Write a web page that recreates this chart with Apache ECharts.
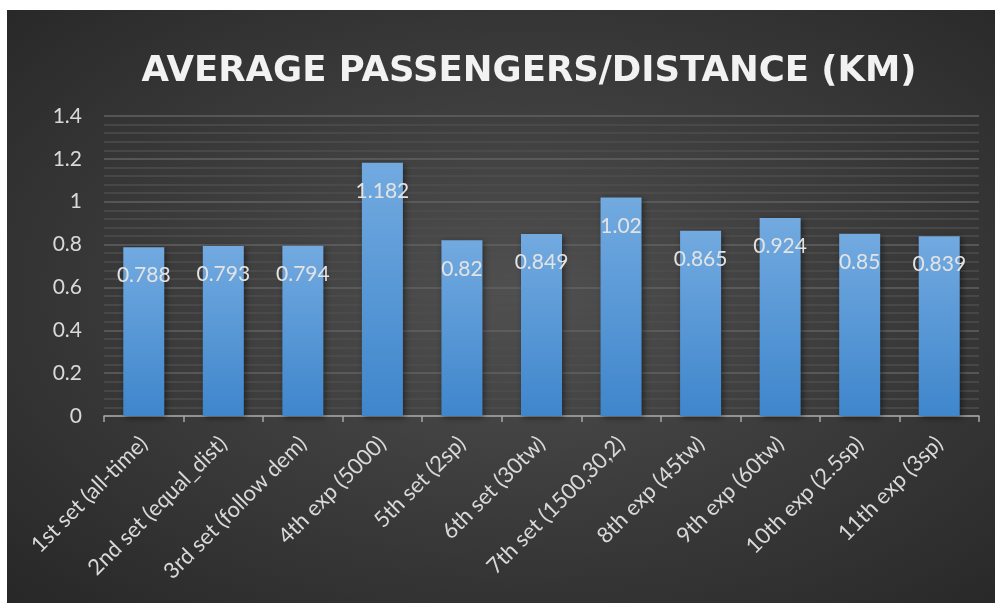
<!DOCTYPE html>
<html>
<head>
<meta charset="utf-8">
<script src="https://cdn.jsdelivr.net/npm/echarts@6/dist/echarts.min.js"></script>
<style>
  html, body { margin: 0; padding: 0; background: #ffffff; }
  #frame {
    position: absolute; left: 7px; top: 10px; width: 988px; height: 593px;
    background: radial-gradient(ellipse at 52% 48%, #505050 0%, #3d3d3d 45%, #272727 100%);
  }
  #main { width: 988px; height: 593px; }
</style>
</head>
<body>
<div id="frame"><div id="main"></div></div>
<script>
// categories and values
const categories = [
  '1st set (all-time)', '2nd set (equal_dist)', '3rd set (follow dem)', '4th exp (5000)',
  '5th set (2sp)', '6th set (30tw)', '7th set (1500,30,2)', '8th exp (45tw)',
  '9th exp (60tw)', '10th exp (2.5sp)', '11th exp (3sp)'
];
const avgPassengers = [0.788, 0.793, 0.794, 1.182, 0.82, 0.849, 1.02, 0.865, 0.924, 0.85, 0.839];

const chart = echarts.init(document.getElementById('main'));
const font = 'Lato, "Open Sans", sans-serif';

const option = {
  backgroundColor: 'transparent',
  title: {
    text: 'AVERAGE PASSENGERS/DISTANCE (KM)',
    left: 517,
    top: 39,
    textAlign: 'center',
    textStyle: {
      color: '#f2f2f2',
      fontFamily: '"DejaVu Sans", sans-serif',
      fontWeight: 'bold',
      fontSize: 35.5
    }
  },
  grid: {
    left: 97,
    right: 16,
    top: 106,
    bottom: 187
  },
  xAxis: {
    type: 'category',
    data: categories,
    axisLine: { lineStyle: { color: '#a6a6a6', width: 1.5 } },
    axisTick: { show: true, length: 6, lineStyle: { color: '#a6a6a6', width: 1.5 } },
    axisLabel: {
      rotate: 45,
      color: '#d9d9d9',
      fontFamily: font,
      fontSize: 22,
      margin: 24,
      interval: 0
    }
  },
  yAxis: {
    type: 'value',
    min: 0,
    max: 1.4,
    interval: 0.2,
    axisLine: { show: false },
    axisTick: { show: false },
    axisLabel: {
      color: '#d9d9d9',
      fontFamily: font,
      fontSize: 21,
      margin: 22
    },
    splitLine: { lineStyle: { color: '#626262', width: 1.5 } },
    minorTick: { show: false, splitNumber: 5 },
    minorSplitLine: { show: true, lineStyle: { color: '#4d4d4d', width: 1.5 } }
  },
  series: [
    {
      type: 'bar',
      data: avgPassengers,
      barWidth: 41,
      itemStyle: {
        color: new echarts.graphic.LinearGradient(0, 0, 0, 1, [
          { offset: 0, color: '#72aae0' },
          { offset: 1, color: '#3f86cc' }
        ]),
        shadowBlur: 6,
        shadowColor: 'rgba(0,0,0,0.45)',
        shadowOffsetX: 2,
        shadowOffsetY: 2
      },
      label: {
        show: true,
        position: 'insideTop',
        distance: 18,
        color: '#e3e3e3',
        fontFamily: font,
        fontSize: 21
      }
    }
  ]
};

chart.setOption(option);
</script>
</body>
</html>
